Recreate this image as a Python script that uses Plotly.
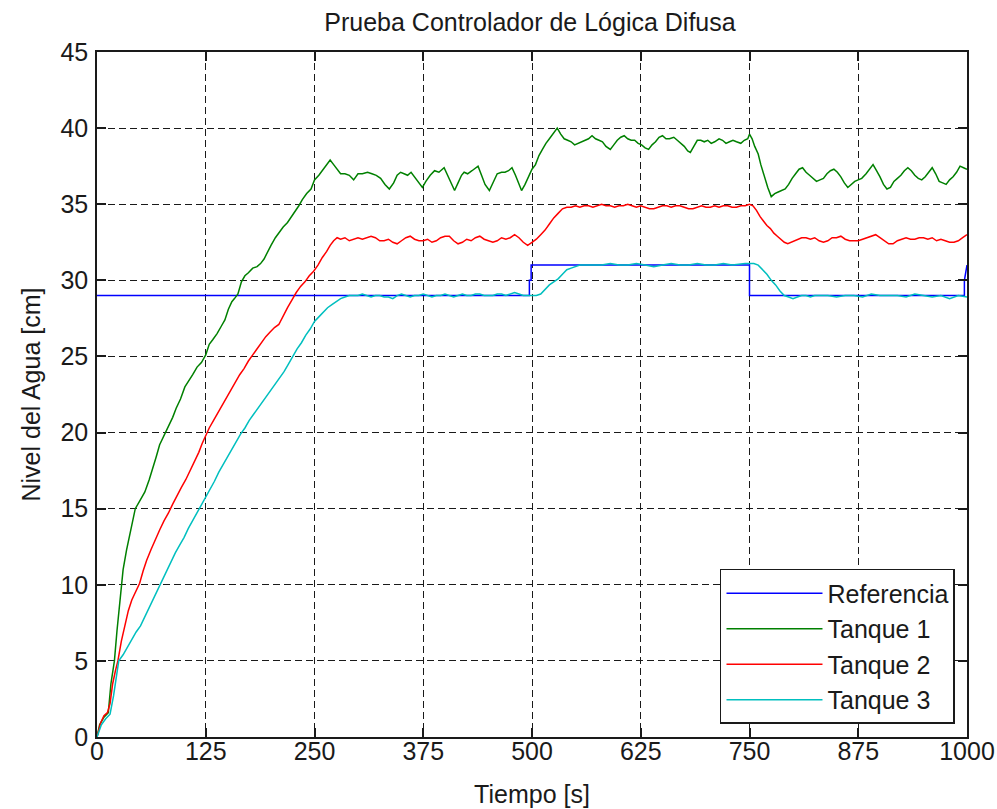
import plotly.graph_objects as go

# ---------------- data ----------------
ref_t = [0, 497, 497, 499, 499, 750, 750, 997, 997, 1000]
ref_v = [29, 29, 30, 30, 31, 31, 29, 29, 30, 31]

t1_t = [0, 3, 8, 13, 16, 20, 23, 27, 30, 34, 39, 44, 50, 55, 60, 64, 68, 72, 77, 82,
        87, 91, 96, 101, 106, 110, 115, 120, 125, 129, 133, 138, 143, 147, 151, 155, 158, 162, 166, 170,
        174, 179, 184, 188, 192, 196, 200, 205, 210, 214, 219, 224, 228, 232, 236, 241, 246, 250, 255, 260,
        264, 268, 272, 276, 280, 285, 290, 295, 300, 305, 311, 316, 321, 326, 331, 336, 341, 345, 349, 353,
        357, 361, 366, 370, 374, 378, 383, 388, 393, 399, 403, 407, 411, 415, 419, 422, 426, 431, 435, 438,
        442, 446, 451, 455, 460, 465, 469, 473, 477, 481, 485, 488, 492, 496, 500, 504, 508, 512, 516, 520,
        525, 529, 533, 537, 541, 545, 549, 553, 557, 561, 565, 569, 573, 577, 581, 585, 590, 594, 598, 602,
        606, 610, 614, 618, 622, 626, 630, 634, 638, 642, 646, 650, 654, 658, 663, 667, 671, 675, 679, 682,
        686, 690, 694, 698, 702, 706, 710, 715, 719, 723, 727, 731, 735, 740, 744, 748, 750, 753, 756, 760,
        763, 767, 771, 775, 779, 783, 787, 791, 795, 799, 803, 807, 811, 815, 819, 823, 827, 831, 835, 839,
        843, 847, 851, 855, 859, 863, 867, 871, 875, 879, 884, 888, 892, 896, 900, 904, 908, 912, 916, 920,
        924, 928, 932, 936, 940, 944, 948, 952, 956, 960, 964, 968, 972, 976, 980, 984, 988, 992, 996, 1000]
t1_v = [0.0, 0.8, 1.3, 1.6, 3.5, 5.0, 7.0, 9.5, 11.0, 12.3, 13.6, 15.0, 15.6, 16.1, 16.9, 17.6, 18.4, 19.2, 19.8, 20.4,
        21.0, 21.6, 22.2, 23.0, 23.4, 23.8, 24.3, 24.6, 25.1, 25.8, 26.1, 26.5, 27.0, 27.4, 28.1, 28.6, 28.8, 29.1, 29.9, 30.3,
        30.5, 30.8, 30.9, 31.1, 31.4, 31.9, 32.3, 32.8, 33.2, 33.5, 33.8, 34.2, 34.6, 34.9, 35.3, 35.7, 36.0, 36.6, 36.9, 37.3,
        37.6, 37.9, 37.6, 37.3, 37.0, 37.0, 36.9, 36.6, 37.0, 37.0, 37.1, 37.0, 36.9, 36.7, 36.3, 36.0, 36.4, 36.9, 37.1, 37.0,
        36.9, 37.1, 36.7, 36.4, 36.1, 36.5, 36.9, 37.2, 37.1, 37.4, 36.9, 36.3, 35.9, 36.4, 36.9, 37.1, 37.0, 37.2, 37.4, 37.5,
        36.9, 36.3, 35.9, 36.4, 37.0, 37.1, 37.1, 37.2, 37.4, 36.9, 36.3, 35.9, 36.3, 36.8, 37.3, 37.6, 38.2, 38.6, 39.0, 39.3,
        39.7, 40.0, 39.6, 39.3, 39.2, 39.1, 38.9, 39.0, 39.1, 39.2, 39.3, 39.5, 39.3, 39.2, 39.1, 38.8, 38.6, 38.9, 39.2, 39.4,
        39.5, 39.3, 39.2, 39.2, 39.0, 38.9, 38.7, 38.6, 38.9, 39.1, 39.4, 39.5, 39.3, 39.3, 39.4, 39.2, 39.0, 38.8, 38.5, 38.4,
        38.8, 39.2, 39.2, 39.1, 39.2, 39.0, 39.1, 39.3, 39.2, 39.0, 39.1, 39.2, 39.1, 39.0, 39.2, 39.3, 39.6, 39.3, 38.8, 38.3,
        37.6, 36.8, 36.1, 35.5, 35.7, 35.8, 35.9, 36.0, 36.3, 36.7, 37.0, 37.3, 37.4, 37.1, 36.9, 36.7, 36.5, 36.6, 36.7, 37.0,
        37.2, 37.3, 37.1, 36.8, 36.4, 36.1, 36.3, 36.5, 36.6, 36.7, 37.0, 37.3, 37.6, 37.2, 36.8, 36.3, 36.0, 36.1, 36.5, 36.7,
        36.9, 37.2, 37.4, 37.2, 36.9, 36.7, 36.6, 36.8, 37.1, 37.4, 37.0, 36.5, 36.4, 36.3, 36.6, 36.8, 37.1, 37.5, 37.4, 37.3]

t2_t = [0, 4, 8, 12, 15, 18, 21, 24, 28, 32, 36, 40, 45, 49, 53, 57, 62, 67, 72, 77,
        82, 87, 92, 97, 102, 107, 112, 117, 121, 125, 129, 134, 139, 144, 149, 154, 159, 164, 169, 174,
        179, 184, 189, 194, 199, 204, 209, 214, 219, 224, 229, 234, 239, 244, 249, 254, 259, 264, 268, 272,
        276, 280, 285, 290, 295, 300, 305, 310, 315, 320, 325, 330, 335, 340, 345, 350, 355, 360, 365, 370,
        375, 380, 385, 390, 395, 400, 405, 410, 415, 420, 425, 430, 435, 440, 445, 450, 455, 460, 465, 470,
        475, 480, 485, 490, 495, 500, 505, 510, 515, 520, 525, 530, 535, 540, 545, 550, 555, 560, 565, 570,
        575, 580, 585, 590, 595, 600, 605, 610, 615, 620, 625, 630, 635, 640, 645, 650, 655, 660, 665, 670,
        675, 680, 685, 690, 695, 700, 705, 710, 715, 720, 725, 730, 735, 740, 745, 750, 754, 758, 762, 766,
        770, 774, 778, 782, 786, 790, 794, 798, 802, 806, 810, 815, 820, 825, 830, 835, 840, 845, 850, 855,
        860, 865, 870, 875, 880, 885, 890, 895, 900, 905, 910, 915, 920, 925, 930, 935, 940, 945, 950, 955,
        960, 965, 970, 975, 980, 985, 990, 995, 1000]
t2_v = [0.0, 0.9, 1.4, 1.6, 2.2, 3.5, 4.3, 5.0, 6.3, 7.4, 8.3, 9.0, 9.6, 10.1, 10.9, 11.6, 12.3, 13.0, 13.6, 14.2,
        14.7, 15.3, 15.9, 16.4, 16.9, 17.5, 18.1, 18.7, 19.3, 19.8, 20.3, 20.8, 21.3, 21.8, 22.3, 22.8, 23.3, 23.8, 24.2, 24.7,
        25.1, 25.5, 25.9, 26.3, 26.6, 26.9, 27.1, 27.7, 28.2, 28.7, 29.2, 29.6, 29.9, 30.3, 30.6, 31.0, 31.5, 31.9, 32.3, 32.6,
        32.8, 32.7, 32.8, 32.6, 32.7, 32.8, 32.7, 32.8, 32.9, 32.8, 32.6, 32.6, 32.7, 32.5, 32.4, 32.6, 32.8, 32.9, 32.7, 32.6,
        32.6, 32.7, 32.5, 32.6, 32.8, 32.9, 32.9, 32.6, 32.4, 32.5, 32.7, 32.6, 32.8, 32.9, 32.7, 32.6, 32.5, 32.6, 32.8, 32.7,
        32.8, 33.0, 32.8, 32.5, 32.3, 32.5, 32.7, 33.0, 33.3, 33.7, 34.1, 34.4, 34.7, 34.8, 34.8, 34.9, 34.8, 34.9, 34.9, 34.8,
        34.9, 35.0, 34.9, 34.9, 34.8, 34.9, 34.9, 35.0, 34.9, 34.8, 34.9, 34.8, 34.7, 34.7, 34.8, 34.9, 34.9, 34.8, 34.9, 34.9,
        34.8, 34.7, 34.7, 34.8, 34.9, 34.8, 34.8, 34.9, 34.8, 34.9, 34.9, 34.8, 34.8, 34.9, 34.9, 35.0, 34.9, 34.6, 34.2, 33.9,
        33.6, 33.4, 33.1, 32.9, 32.7, 32.5, 32.4, 32.5, 32.6, 32.7, 32.8, 32.8, 32.7, 32.8, 32.6, 32.5, 32.6, 32.8, 32.8, 32.9,
        32.7, 32.6, 32.6, 32.6, 32.7, 32.8, 32.9, 33.0, 32.8, 32.6, 32.4, 32.4, 32.6, 32.7, 32.8, 32.7, 32.7, 32.8, 32.8, 32.7,
        32.8, 32.6, 32.7, 32.6, 32.5, 32.5, 32.6, 32.8, 33.0]

t3_t = [0, 5, 10, 15, 19, 22, 25, 30, 35, 40, 45, 50, 55, 60, 65, 70, 75, 80, 85, 90,
        95, 100, 105, 110, 115, 120, 125, 130, 135, 140, 145, 150, 155, 160, 165, 170, 175, 180, 185, 190,
        195, 200, 205, 210, 215, 220, 225, 230, 235, 240, 245, 250, 255, 260, 265, 270, 275, 280, 285, 290,
        295, 300, 305, 310, 315, 320, 325, 330, 335, 340, 345, 350, 355, 360, 365, 370, 375, 380, 385, 390,
        395, 400, 405, 410, 415, 420, 425, 430, 435, 440, 445, 450, 455, 460, 465, 470, 475, 480, 485, 490,
        495, 500, 505, 510, 515, 520, 525, 530, 535, 540, 545, 550, 555, 560, 570, 580, 590, 600, 610, 620,
        630, 640, 650, 660, 670, 680, 690, 700, 710, 720, 730, 740, 745, 750, 755, 760, 765, 770, 775, 780,
        785, 790, 795, 800, 805, 810, 815, 820, 825, 830, 840, 850, 860, 870, 880, 890, 900, 910, 920, 930,
        940, 950, 960, 970, 980, 990, 1000]
t3_v = [0.0, 0.8, 1.2, 1.5, 2.7, 4.0, 5.0, 5.4, 5.9, 6.4, 6.9, 7.3, 7.9, 8.6, 9.2, 9.8, 10.4, 11.0, 11.6, 12.1,
        12.6, 13.1, 13.7, 14.2, 14.7, 15.2, 15.7, 16.2, 16.8, 17.4, 17.9, 18.4, 18.9, 19.4, 19.9, 20.3, 20.8, 21.2, 21.6, 22.0,
        22.4, 22.8, 23.2, 23.6, 24.0, 24.5, 25.0, 25.5, 25.9, 26.4, 26.8, 27.3, 27.6, 27.9, 28.2, 28.4, 28.6, 28.8, 28.9, 29.0,
        29.0, 29.0, 29.1, 29.0, 28.9, 29.0, 29.0, 28.9, 28.9, 28.8, 29.0, 29.1, 29.0, 28.9, 29.0, 29.0, 29.1, 29.0, 28.9, 29.0,
        29.0, 29.1, 29.0, 28.9, 29.0, 29.1, 29.0, 29.0, 29.1, 29.1, 29.0, 29.0, 29.0, 29.1, 29.1, 29.0, 29.1, 29.2, 29.1, 29.0,
        29.0, 29.0, 29.0, 29.1, 29.4, 29.7, 29.9, 30.1, 30.4, 30.7, 30.8, 30.9, 31.0, 31.0, 31.0, 31.0, 31.1, 31.0, 31.0, 31.1,
        31.0, 30.9, 31.0, 31.1, 31.0, 31.0, 31.1, 31.0, 31.0, 31.1, 31.0, 31.1, 31.1, 31.1, 31.1, 31.0, 30.7, 30.4, 30.0, 29.7,
        29.3, 29.0, 28.9, 28.8, 28.9, 29.0, 29.0, 28.9, 29.0, 29.0, 29.0, 28.9, 29.0, 29.0, 28.9, 29.1, 29.0, 29.0, 29.0, 28.9,
        29.1, 29.0, 28.9, 29.0, 28.8, 29.0, 28.9]

x_ticks = [0, 125, 250, 375, 500, 625, 750, 875, 1000]
y_ticks = [0, 5, 10, 15, 20, 25, 30, 35, 40, 45]

names = ["Referencia", "Tanque 1", "Tanque 2", "Tanque 3"]
colors = ["#0000FF", "#008000", "#FF0000", "#00BFBF"]

FONT = "Liberation Sans, Arial, sans-serif"
TXT = "#1a1a1a"
FS = 25

fig = go.Figure()
for (tt, vv), nm, col in zip([(ref_t, ref_v), (t1_t, t1_v), (t2_t, t2_v), (t3_t, t3_v)], names, colors):
    fig.add_trace(go.Scatter(x=tt, y=vv, mode="lines", name=nm, legendgroup=nm,
                             line=dict(color=col, width=1.5)))

axis_common = dict(
    showline=True, linecolor="#1a1a1a", linewidth=1.5, mirror="ticks",
    ticks="inside", ticklen=9, tickwidth=1.5, tickcolor="#1a1a1a",
    showgrid=True, gridcolor="#1a1a1a", gridwidth=1.3, griddash="7px,4px",
    zeroline=False, tickfont=dict(family=FONT, size=FS, color=TXT),
    automargin=False, ticklabeloverflow="allow",
)

fig.update_xaxes(range=[0, 1000], tickvals=x_ticks, ticktext=[str(v) for v in x_ticks],
                 ticklabelstandoff=-9,
                 title=dict(text="Tiempo [s]", font=dict(family=FONT, size=FS, color=TXT), standoff=22),
                 **axis_common)
fig.update_yaxes(range=[0, 45], tickvals=y_ticks, ticktext=[str(v) for v in y_ticks],
                 ticklabelstandoff=2,
                 title=dict(text="Nivel del Agua [cm]", font=dict(family=FONT, size=FS, color=TXT), standoff=13),
                 **axis_common)

fig.update_layout(
    width=997, height=809,
    margin=dict(l=97, r=30, t=52, b=72, autoexpand=False),
    paper_bgcolor="white", plot_bgcolor="white",
    title=dict(text="Prueba Controlador de Lógica Difusa", x=0.5316, xanchor="center",
               y=0.973, yanchor="middle", font=dict(family=FONT, size=FS, color=TXT)),
    legend=dict(x=0.9862, xanchor="right", y=0.019, yanchor="bottom",
                bgcolor="white", bordercolor="#1a1a1a", borderwidth=1.5,
                font=dict(family=FONT, size=FS, color=TXT), itemwidth=96,
                tracegroupgap=0),
    showlegend=True,
)

# remove the page's default 8px body margin so the 997x809 figure fills the window exactly
fig.write_html("out.html", config={"displayModeBar": False},
               post_script="document.body.style.margin='0';document.body.style.overflow='hidden';")
